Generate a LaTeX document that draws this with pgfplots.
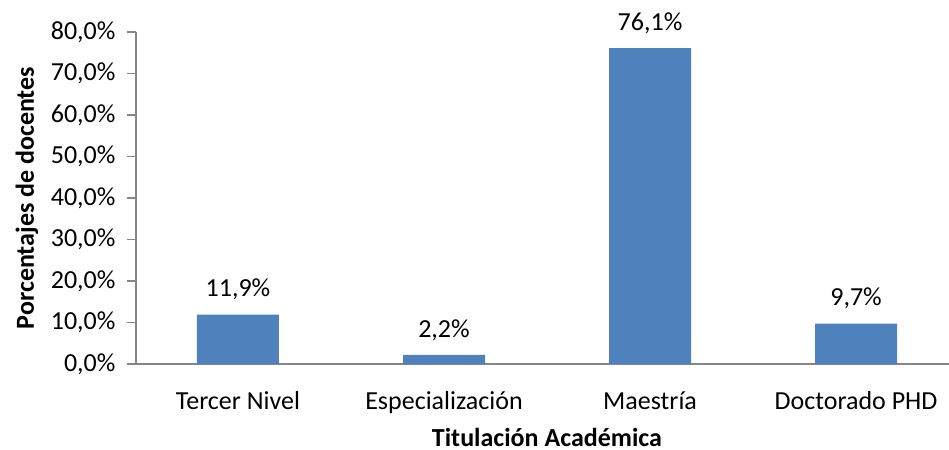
\documentclass[border=0pt]{standalone}
\usepackage{fontspec}
\setmainfont{Carlito}
\usepackage{pgfplots}
\pgfplotsset{compat=1.18}

\definecolor{barblue}{HTML}{4F81BD}
\definecolor{axisgray}{HTML}{868686}
\newcommand{\chartfont}{\fontsize{26bp}{31bp}\selectfont}

\begin{document}
\begin{tikzpicture}[font=\chartfont]
\begin{axis}[
  at={(0,0)}, anchor=south west,
  scale only axis,
  width=813bp, height=332bp,
  xmin=-0.495, xmax=3.451,
  ymin=0, ymax=80,
  axis x line=bottom, axis y line=left,
  axis line style={-, axisgray, line width=1.2bp},
  every tick label/.append style={font=\chartfont},
  label style={font=\chartfont\bfseries},
  xtick=data,
  xticklabels={Tercer Nivel, Especialización, Maestría, Doctorado PHD},
  xtick style={draw=none},
  xticklabel style={yshift=-15bp},
  ytick={0,10,...,80},
  yticklabels={{0,0\%},{10,0\%},{20,0\%},{30,0\%},{40,0\%},{50,0\%},{60,0\%},{70,0\%},{80,0\%}},
  tick align=outside,
  major tick length=9bp,
  ytick style={axisgray, line width=1.2bp},
  yticklabel style={xshift=-8bp},
  ylabel={Porcentajes de docentes},
  ylabel style={at={(axis description cs:-0.134,0.5)}, anchor=center},
  xlabel={Titulación Académica},
  xlabel style={at={(axis description cs:0.5055,-0.22)}, anchor=center, inner sep=0pt},
  ybar, bar width=82bp,
  nodes near coords={\pgfmathprintnumber[fixed,fixed zerofill,precision=1,use comma,assume math mode=true]{\pgfplotspointmeta}\%},
  every node near coord/.append style={font=\chartfont, yshift=11bp},
  clip=false,
]
\addplot[fill=barblue, draw=none] coordinates {
  (0,11.9) (1,2.2) (2,76.1) (3,9.7)
};
\end{axis}
\pgfresetboundingbox
\path[use as bounding box] (-136bp,-86bp) rectangle (813bp,364bp);
\end{tikzpicture}
\end{document}
